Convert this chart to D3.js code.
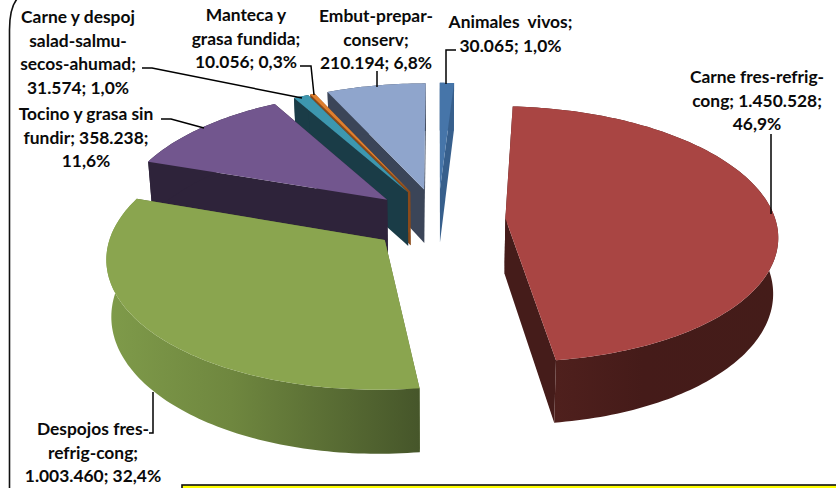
<!DOCTYPE html>
<html><head><meta charset="utf-8">
<script src="https://cdn.jsdelivr.net/npm/d3@7"></script>
<style>html,body{margin:0;padding:0;background:#fff;overflow:hidden}svg{display:block}
text{font-family:Lato,"Open Sans",sans-serif;font-weight:700;fill:#0a0a0a;text-anchor:middle}</style>
</head><body><svg id="c" width="836" height="488"></svg>
<script>
const categories = ["Animales  vivos","Carne fres-refrig-cong","Despojos fres-refrig-cong","Tocino y grasa sin fundir","Carne y despoj salad-salmu-secos-ahumad","Manteca y grasa fundida","Embut-prepar-conserv"];
const seriesValues = [30065,1450528,1003460,358238,31574,10056,210194];
const labelLines = [
 ["Animales  vivos;","{v}; {p}"],
 ["Carne fres-refrig-","cong; {v};","{p}"],
 ["Despojos fres-","refrig-cong;","{v}; {p}"],
 ["Tocino y grasa sin","fundir; {v};","{p}"],
 ["Carne y despoj","salad-salmu-","secos-ahumad;","{v}; {p}"],
 ["Manteca y","grasa fundida;","{v}; {p}"],
 ["Embut-prepar-","conserv;","{v}; {p}"]];
const topColors  = ["#4675A9","#A94543","#8AA54F","#72568E","#3D97AF","#DF7F2E","#8FA5CC"];
const wallColors = ["#375F8C","#451C1A","#5d7036","#2E233A","#1A3C47","#8A4A1A","#3B4558"];

// layout (label centre x, first-line centre y; leader polyline)
const labelPos = [[510.5,22],[757,77],[93,429],[86,114],[78,17],[246,15],[376,16]];
const leaders = [
 [[456,50],[446,50],[446,84]],
 [[771,134],[771,214]],
 [[149,433],[153,433],[153,392]],
 [[161,119],[171,119],[204,128]],
 [[142,68],[152,68],[302,98]],
 [[300,66],[311,66],[314,95]],
 [[377,71],[377,87]]];
const paint = [6,0,5,4,3,1,2];

const cx=438, Y0=219.5, H=1030, D=8.17, A=270, explode=0.25, T=55, lineH=23.6;
function proj(u,v){const s=1/(1-v/D);return {x:cx+A*u*s,y:Y0+H*(s-1),s};}
function upper(p){return [p.x,p.y];}
function lower(p){return [cx+(p.x-cx)*0.985,p.y+T*p.s];}

const svg=d3.select("#c");
const defs=svg.append("defs");
const gg=defs.append("linearGradient").attr("id","gGreen").attr("gradientUnits","userSpaceOnUse")
  .attr("x1",106).attr("x2",419).attr("y1",0).attr("y2",0);
gg.append("stop").attr("offset",0).attr("stop-color","#7F9B4A");
gg.append("stop").attr("offset",.4).attr("stop-color","#6F873F");
gg.append("stop").attr("offset",1).attr("stop-color","#46562A");
const gr=defs.append("linearGradient").attr("id","gRed").attr("gradientUnits","userSpaceOnUse")
  .attr("x1",555).attr("x2",775).attr("y1",0).attr("y2",0);
gr.append("stop").attr("offset",0).attr("stop-color","#4F201D");
gr.append("stop").attr("offset",.4).attr("stop-color","#451B19");
gr.append("stop").attr("offset",1).attr("stop-color","#441C19");

const total=d3.sum(seriesValues);
const pie=d3.pie().sort(null).value(d=>d)(seriesValues);
const line=d3.line();
const closed=d3.line().curve(d3.curveLinearClosed);

const g=svg.append("g");
paint.forEach(i=>{
  const a=pie[i], mid=(a.startAngle+a.endAngle)/2;
  const ou=explode*Math.sin(mid), ov=-explode*Math.cos(mid);
  const n=Math.max(2,Math.ceil((a.endAngle-a.startAngle)/0.02));
  const rim=d3.range(n+1).map(k=>{
    const t=a.startAngle+(a.endAngle-a.startAngle)*k/n;
    return proj(ou+Math.sin(t),ov-Math.cos(t));
  });
  const apex=proj(ou,ov);
  const wallFill=wallColors[i];
  // radial walls
  [rim[0],rim[n]].forEach(p=>{
    g.append("path").attr("d",closed([upper(apex),upper(p),lower(p),lower(apex)])).attr("fill",wallFill);
  });
  // outer rim
  g.append("path").attr("d",closed(rim.map(upper).concat(rim.map(lower).reverse())))
   .attr("fill",i===2?"url(#gGreen)":i===1?"url(#gRed)":wallFill);
  // top face
  g.append("path").attr("d",closed([upper(apex)].concat(rim.map(upper)))).attr("fill",topColors[i]);
});

// frame
svg.append("path").attr("d","M9.5,488 V30 Q9.5,8 17,-1").attr("fill","none").attr("stroke","#111").attr("stroke-width",1.6);
// note box
svg.append("rect").attr("x",182).attr("y",485).attr("width",660).attr("height",10).attr("fill","#FFFF00").attr("stroke","#111").attr("stroke-width",1.6);

// leaders
leaders.forEach(l=>svg.append("path").attr("d",line(l)).attr("fill","none").attr("stroke","#000").attr("stroke-width",1.5));

// labels
const fmtV=v=>d3.format(",")(v).replace(/,/g,".");
const fmtP=v=>(v/total*100).toFixed(1).replace(".",",")+"%";
labelLines.forEach((ls,i)=>{
  const t=svg.append("text").attr("font-size",17.4);
  ls.forEach((s,j)=>t.append("tspan").attr("x",labelPos[i][0]).attr("y",labelPos[i][1]+j*lineH).attr("dy","0.35em")
    .style("white-space","pre")
    .text(s.replace("{v}",fmtV(seriesValues[i])).replace("{p}",fmtP(seriesValues[i]))));
});
</script></body></html>
